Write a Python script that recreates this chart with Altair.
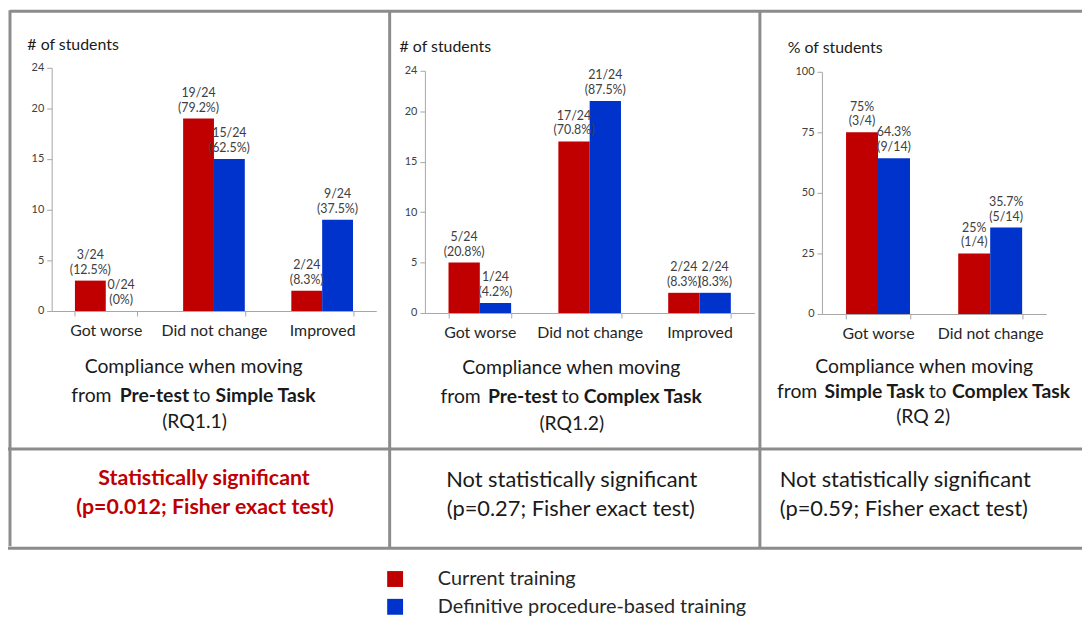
import altair as alt
import pandas as pd

# ---------------- data ----------------
series = ["Current training", "Definitive procedure-based training"]

cats1 = ["Got worse", "Did not change", "Improved"]
p1_current = [3, 19, 2]
p1_def = [0, 15, 9]
p1_lab_current = ["3/24\n(12.5%)", "19/24\n(79.2%)", "2/24\n(8.3%)"]
p1_lab_def = ["0/24\n(0%)", "15/24\n(62.5%)", "9/24\n(37.5%)"]

cats2 = ["Got worse", "Did not change", "Improved"]
p2_current = [5, 17, 2]
p2_def = [1, 21, 2]
p2_lab_current = ["5/24\n(20.8%)", "17/24\n(70.8%)", "2/24\n(8.3%)"]
p2_lab_def = ["1/24\n(4.2%)", "21/24\n(87.5%)", "2/24\n(8.3%)"]

cats3 = ["Got worse", "Did not change"]
p3_current = [75, 25]
p3_def = [64.3, 35.7]
p3_lab_current = ["75%\n(3/4)", "25%\n(1/4)"]
p3_lab_def = ["64.3%\n(9/14)", "35.7%\n(5/14)"]

yticks_count = [0, 5, 10, 15, 20, 24]
yticks_pct = [0, 25, 50, 75, 100]

RED = "#C00000"
BLUE = "#0033CC"
FONT = "Lato"
GRID = "#8c8c8c"


def make_df(cats, cur, dfn, lc, ld):
    rows = []
    for c, v, l in zip(cats, cur, lc):
        rows.append({"cat": c, "series": series[0], "value": v, "label": l})
    for c, v, l in zip(cats, dfn, ld):
        rows.append({"cat": c, "series": series[1], "value": v, "label": l})
    return pd.DataFrame(rows)


legend = alt.Legend(
    orient="none", legendX=380, legendY=563, title=None, direction="vertical",
    symbolType="square", symbolSize=256, symbolStrokeWidth=0,
    labelFont=FONT, labelFontSize=20, labelColor="#262626", labelOffset=33,
    labelLimit=600, rowPadding=8, padding=0,
)


def panel(df, cats, ydomain, yticks, xrange, yrange, title, tx, ty):
    x_axis_off = -(609 - yrange[0])
    y_axis_off = -xrange[0]
    x = alt.X(
        "cat:N", sort=cats,
        scale=alt.Scale(domain=cats, range=xrange, paddingInner=0.43, paddingOuter=0.215),
        axis=alt.Axis(
            orient="bottom", offset=x_axis_off, title=None, labelAngle=0,
            tickBand="extent", tickSize=5, tickColor="#a6a6a6", domainColor="#a6a6a6",
            labelFont=FONT, labelFontSize=16, labelColor="#262626", labelPadding=7,
        ),
    )
    xo = alt.XOffset("series:N", sort=series,
                     scale=alt.Scale(domain=series, paddingInner=0, paddingOuter=0))
    y = alt.Y(
        "value:Q",
        scale=alt.Scale(domain=ydomain, range=yrange, nice=False, zero=True),
        axis=alt.Axis(
            orient="left", offset=y_axis_off, values=yticks, grid=False,
            tickSize=5, tickColor="#a6a6a6", domainColor="#a6a6a6",
            labelFont=FONT, labelFontSize=11, labelColor="#404040", labelPadding=3,
            title=title, titleAngle=0, titleX=tx, titleY=ty, titleAlign="left",
            titleBaseline="middle", titleFont=FONT, titleFontSize=16,
            titleFontWeight="normal", titleColor="#1a1a1a",
        ),
    )
    base = alt.Chart(df).encode(x=x, xOffset=xo, y=y)
    bars = base.mark_bar().encode(
        color=alt.Color("series:N", sort=series,
                        scale=alt.Scale(domain=series, range=[RED, BLUE]), legend=legend)
    )
    labels = base.mark_text(
        lineBreak="\n", baseline="bottom", dy=-19, lineHeight=15,
        font=FONT, fontSize=12.5, color="#404040",
    ).encode(text="label:N")
    return alt.layer(bars, labels)


p1 = panel(make_df(cats1, p1_current, p1_def, p1_lab_current, p1_lab_def), cats1,
           [0, 24], yticks_count, [44, 371], [303, 58], "# of students", -25, 35)
p2 = panel(make_df(cats2, p2_current, p2_def, p2_lab_current, p2_lab_def), cats2,
           [0, 24], yticks_count, [420, 752], [305, 61], "# of students", -26, 37)
p3 = panel(make_df(cats3, p3_current, p3_def, p3_lab_current, p3_lab_def), cats3,
           [0, 100], yticks_pct, [820, 1046], [306, 62], "% of students", -35, 38)

# ---------------- table borders (layout) ----------------
hlines = pd.DataFrame({"x": [2, -1, -1], "x2": [1082, 1082, 1082], "y": [1, 442, 542]})
vlines = pd.DataFrame({"x": [2, 384.5, 757.5], "y": [0, 0, 0], "y2": [540, 542, 542]})
hrules = alt.Chart(hlines).mark_rule(color=GRID, strokeWidth=3).encode(
    x=alt.X("x:Q", scale=None), x2="x2", y=alt.Y("y:Q", scale=None))
vrules = alt.Chart(vlines).mark_rule(color=GRID, strokeWidth=3).encode(
    x=alt.X("x:Q", scale=None), y=alt.Y("y:Q", scale=None), y2="y2")

# ---------------- captions ----------------
cap_normal = pd.DataFrame({
    "x": [187, 188, 84, 195,
          567.5, 568, 456, 566.5,
          923, 922, 795, 936.5],
    "y": [359, 415, 389, 389,
          360, 417, 390, 390,
          359, 410, 385, 385],
    "t": ["Compliance when moving", "(RQ1.1)", "from", "to",
          "Compliance when moving", "(RQ1.2)", "from", "to",
          "Compliance when moving", "(RQ 2)", "from", "to"],
})
cap_bold = pd.DataFrame({
    "x": [147.5, 259.5, 518.5, 639.5, 873, 1010.5],
    "y": [389, 389, 390, 390, 385, 385],
    "t": ["Pre-test", "Simple Task", "Pre-test", "Complex Task", "Simple Task", "Complex Task"],
})
sig_red = pd.DataFrame({
    "x": [197.5, 198.5], "y": [472, 502],
    "t": ["Statistically  significant", "(p=0.012; Fisher  exact test)"],
})
sig_normal = pd.DataFrame({
    "x": [568, 567, 904, 902.5], "y": [473, 503, 473, 503],
    "t": ["Not statistically significant", "(p=0.27; Fisher exact test)",
          "Not statistically significant", "(p=0.59; Fisher exact test)"],
})


def txt(df, size, weight, color):
    return alt.Chart(df).mark_text(
        font=FONT, fontSize=size, fontWeight=weight, color=color,
        align="center", baseline="middle",
    ).encode(x=alt.X("x:Q", scale=None), y=alt.Y("y:Q", scale=None), text="t:N")


chart = alt.layer(
    hrules, vrules, p1, p2, p3,
    txt(cap_normal, 19.5, "normal", "#1a1a1a"),
    txt(cap_bold, 19.5, "bold", "#1a1a1a"),
    txt(sig_red, 21.5, "bold", RED),
    txt(sig_normal, 22, "normal", "#1a1a1a"),
).resolve_scale(
    x="independent", y="independent", xOffset="independent"
).properties(
    width=1082, height=609, padding=0,
    autosize=alt.AutoSizeParams(type="none"),
).configure_view(strokeWidth=0)

chart.save("out.html", embed_options={"renderer": "svg", "actions": False})
